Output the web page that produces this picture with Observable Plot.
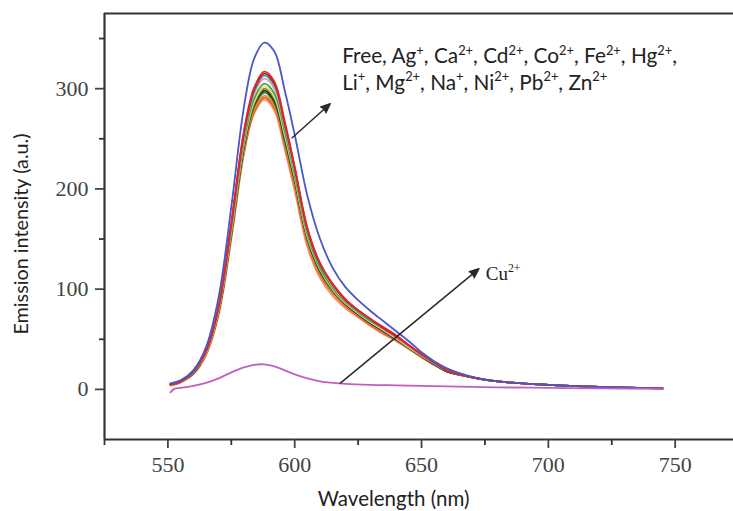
<!DOCTYPE html>
<html>
<head>
<meta charset="utf-8">
<script src="https://cdn.jsdelivr.net/npm/d3@7"></script>
<script src="https://cdn.jsdelivr.net/npm/@observablehq/plot@0.6"></script>
<style>
  html, body { margin: 0; padding: 0; background: #fff; overflow: hidden; }
  #chart svg { display: block; }
</style>
</head>
<body>
<div id="chart"></div>
<script>
// ---- data ----
const wavelengths = [551, 555, 560, 565, 570, 575, 580, 584, 588, 592, 596, 600, 605, 610, 615, 620, 625, 630, 635, 640, 645, 650, 655, 660, 670, 680, 700, 720, 745];

const free = [6, 9, 19, 42, 92, 182, 282, 330, 346, 337, 299, 254, 193, 150, 121, 102, 89, 78, 68, 58, 48, 37, 28, 21, 12.5, 8, 4.5, 2.5, 1];
const ag   = [5, 8, 18, 38, 83, 166, 258, 301, 317, 307, 268, 222, 161, 126, 105, 90, 79, 70, 62, 54, 44, 35, 27, 19, 12, 8, 4.5, 2.5, 1];
const ca   = [5, 8, 18, 38, 83, 165, 256, 299, 315, 305, 266, 221, 160, 125, 105, 89, 79, 70, 61, 53, 44, 35, 27, 19, 12, 8, 4.5, 2.5, 1];
const cd   = [5, 8, 17, 38, 82, 164, 254, 297, 313, 303, 264, 220, 159, 124, 104, 89, 78, 69, 61, 53, 44, 35, 26, 19, 12, 8, 4.5, 2.5, 1];
const co   = [5, 8, 17, 37, 81, 162, 252, 295, 310, 300, 262, 218, 158, 124, 103, 88, 78, 69, 60, 52, 43, 34, 26, 19, 12, 8, 4.5, 2.5, 1];
const fe   = [5, 8, 17, 37, 80, 160, 248, 290, 305, 295, 258, 214, 155, 121, 101, 87, 77, 68, 60, 52, 43, 34, 26, 19, 12, 8, 4.5, 2.5, 1];
const hg   = [5, 8, 17, 36, 79, 158, 246, 287, 302, 292, 255, 212, 153, 120, 100, 86, 76, 67, 59, 51, 42, 34, 26, 19, 12, 8, 4.5, 2.5, 1];
const mg   = [5, 8, 17, 36, 79, 157, 244, 285, 300, 290, 253, 210, 152, 119, 99, 86, 76, 67, 59, 51, 42, 33, 26, 19, 12, 8, 4.5, 2.5, 1];
const li   = [5, 8, 16, 36, 78, 156, 243, 284, 298, 288, 251, 209, 151, 118, 99, 85, 75, 66, 58, 50, 42, 33, 25, 18, 12, 8, 4.5, 2.5, 1];
const na   = [5, 8, 16, 36, 78, 155, 241, 282, 296, 286, 249, 207, 150, 117, 98, 85, 75, 66, 58, 50, 41, 33, 25, 18, 12, 8, 4.5, 2.5, 1];
const ni   = [5, 8, 16, 35, 77, 154, 239, 279, 293, 283, 246, 204, 148, 115, 97, 84, 74, 65, 57, 49, 41, 33, 25, 18, 12, 8, 4.5, 2.5, 1];
const pb   = [4, 7, 16, 35, 76, 152, 237, 277, 291, 281, 244, 202, 146, 114, 96, 83, 73, 64, 56, 49, 41, 32, 25, 18, 12, 8, 4.5, 2.5, 1];
const zn   = [4, 7, 15, 34, 74, 150, 235, 275, 289, 278, 240, 198, 142, 111, 93, 81, 72, 63, 55, 48, 40, 32, 24, 18, 12, 8, 4.5, 2.5, 1];

const cuWavelengths = [551, 552.5, 555, 560, 565, 570, 575, 580, 584, 588, 592, 596, 600, 605, 610, 615, 620, 630, 640, 650, 660, 670, 680, 700, 720, 745];
const cu = [-3, 0.5, 1.5, 3.5, 6.5, 11, 17, 22, 24.5, 25, 23, 19, 15, 11, 8, 6.5, 5.5, 4.5, 4, 3.5, 3, 2.5, 2, 1.5, 1, 0.5];

const seriesNames  = ["Zn2+", "Pb2+", "Ni2+", "Na+", "Li+", "Mg2+", "Hg2+", "Fe2+", "Co2+", "Cd2+", "Ca2+", "Ag+", "Free", "Cu2+"];
const seriesValues = [zn, pb, ni, na, li, mg, hg, fe, co, cd, ca, ag, free, cu];
const seriesX      = [wavelengths, wavelengths, wavelengths, wavelengths, wavelengths, wavelengths, wavelengths, wavelengths, wavelengths, wavelengths, wavelengths, wavelengths, wavelengths, cuWavelengths];
const seriesColors = ["#ff8a78", "#c8681e", "#f08a1c", "#2a7a35", "#222222", "#85852a", "#e9e08a", "#3fa345", "#ef8fb0", "#2aa9a0", "#b3202f", "#e3262a", "#4a57c9", "#c35fc0"];

const xTicks = [550, 600, 650, 700, 750];
const xMinorTicks = [525, 575, 625, 675, 725];
const yTicks = [0, 100, 200, 300];
const yMinorTicks = [50, 150, 250, 350];

const legendLines = ["Free, Ag⁺, Ca²⁺, Cd²⁺, Co²⁺, Fe²⁺, Hg²⁺,", "Li⁺, Mg²⁺, Na⁺, Ni²⁺, Pb²⁺, Zn²⁺"];
const legendX = [618.7, 618.7];
const legendY = [325.6, 299];
const cuLabel = ["Cu²⁺"];
const cuLabelX = [675.3];
const cuLabelY = [109.6];
const arrows = [
  {x1: 599, y1: 251, x2: 614, y2: 285},
  {x1: 618, y1: 6.2, x2: 672.6, y2: 120.3}
];
const xTitle = "Wavelength (nm)";
const xTitleX = [639];
const yTitle = "Emission intensity (a.u.)";
const yTitleY = [155];

// ---- table ----
const table = [];
seriesNames.forEach((name, s) => {
  seriesValues[s].forEach((v, i) => table.push({ion: name, wavelength: seriesX[s][i], intensity: v}));
});

const sans = "Lato, 'Open Sans', sans-serif";
const serif = "'Liberation Serif', 'DejaVu Serif', serif";

const chart = Plot.plot({
  width: 733,
  height: 511,
  marginLeft: 104,
  marginRight: 0,
  marginTop: 13,
  marginBottom: 72,
  x: {domain: [525, 773]},
  y: {domain: [-50, 375]},
  color: {domain: seriesNames, range: seriesColors},
  style: {background: "#fff"},
  marks: [
    Plot.line(table, {x: "wavelength", y: "intensity", z: "ion", stroke: "ion", strokeWidth: 1.8, curve: "catmull-rom"}),
    Plot.ruleY([375], {stroke: "#333", strokeWidth: 2.2}),
    Plot.ruleY([-50], {stroke: "#333", strokeWidth: 2.2}),
    Plot.ruleX([525], {stroke: "#333", strokeWidth: 2.2}),
    Plot.axisX({ticks: xTicks, tickSize: 9, tickPadding: 8, fontSize: 22, fontFamily: serif, color: "#444", strokeWidth: 1.8, label: null}),
    Plot.axisX({ticks: xMinorTicks, tickSize: 6, tickFormat: () => "", color: "#333", strokeWidth: 1.8, label: null}),
    Plot.axisY({ticks: yTicks, tickSize: 9, tickPadding: 7, fontSize: 22, fontFamily: serif, color: "#444", strokeWidth: 1.8, label: null}),
    Plot.axisY({ticks: yMinorTicks, tickSize: 5, tickFormat: () => "", color: "#333", strokeWidth: 1.8, label: null}),
    Plot.arrow(arrows, {x1: "x1", y1: "y1", x2: "x2", y2: "y2", stroke: "#2a2a2a", fill: "#2a2a2a", strokeWidth: 1.5, headLength: 10, headAngle: 45}),
    Plot.text(legendLines, {x: legendX, y: legendY, text: d => d, textAnchor: "start", lineAnchor: "bottom", fontSize: 20.8, fontFamily: sans, fill: "#222"}),
    Plot.text(cuLabel, {x: cuLabelX, y: cuLabelY, text: d => d, textAnchor: "start", lineAnchor: "bottom", fontSize: 19, fontFamily: serif, fill: "#222"}),
    Plot.text([xTitle], {x: xTitleX, frameAnchor: "bottom", dy: 66, text: d => d, textAnchor: "middle", lineAnchor: "bottom", fontSize: 20.5, fontFamily: sans, fill: "#222"}),
    Plot.text([yTitle], {y: yTitleY, frameAnchor: "left", dx: -83, rotate: -90, text: d => d, textAnchor: "middle", lineAnchor: "middle", fontSize: 19.8, fontFamily: sans, fill: "#222"})
  ]
});
document.getElementById("chart").appendChild(chart);

// render Unicode superscripts as real raised tspans
const supMap = {"⁺": "+", "²": "2", "⁻": "-"};
d3.select(chart).selectAll("text").each(function () {
  const el = d3.select(this);
  const txt = this.textContent;
  if (!/[⁺²⁻]/.test(txt)) return;
  const fs = parseFloat(getComputedStyle(this).fontSize) || 19;
  const parts = txt.match(/[⁺²⁻]+|[^⁺²⁻]+/g);
  el.text(null);
  let raised = false;
  parts.forEach(p => {
    const isSup = /^[⁺²⁻]/.test(p);
    const t = el.append("tspan").text(isSup ? p.split("").map(c => supMap[c]).join("") : p);
    if (isSup) {
      t.attr("font-size", (fs * 0.62).toFixed(1)).attr("dy", (-fs * 0.4).toFixed(1));
      raised = true;
    } else if (raised) {
      t.attr("dy", (fs * 0.4).toFixed(1));
      raised = false;
    }
  });
});
</script>
</body>
</html>
